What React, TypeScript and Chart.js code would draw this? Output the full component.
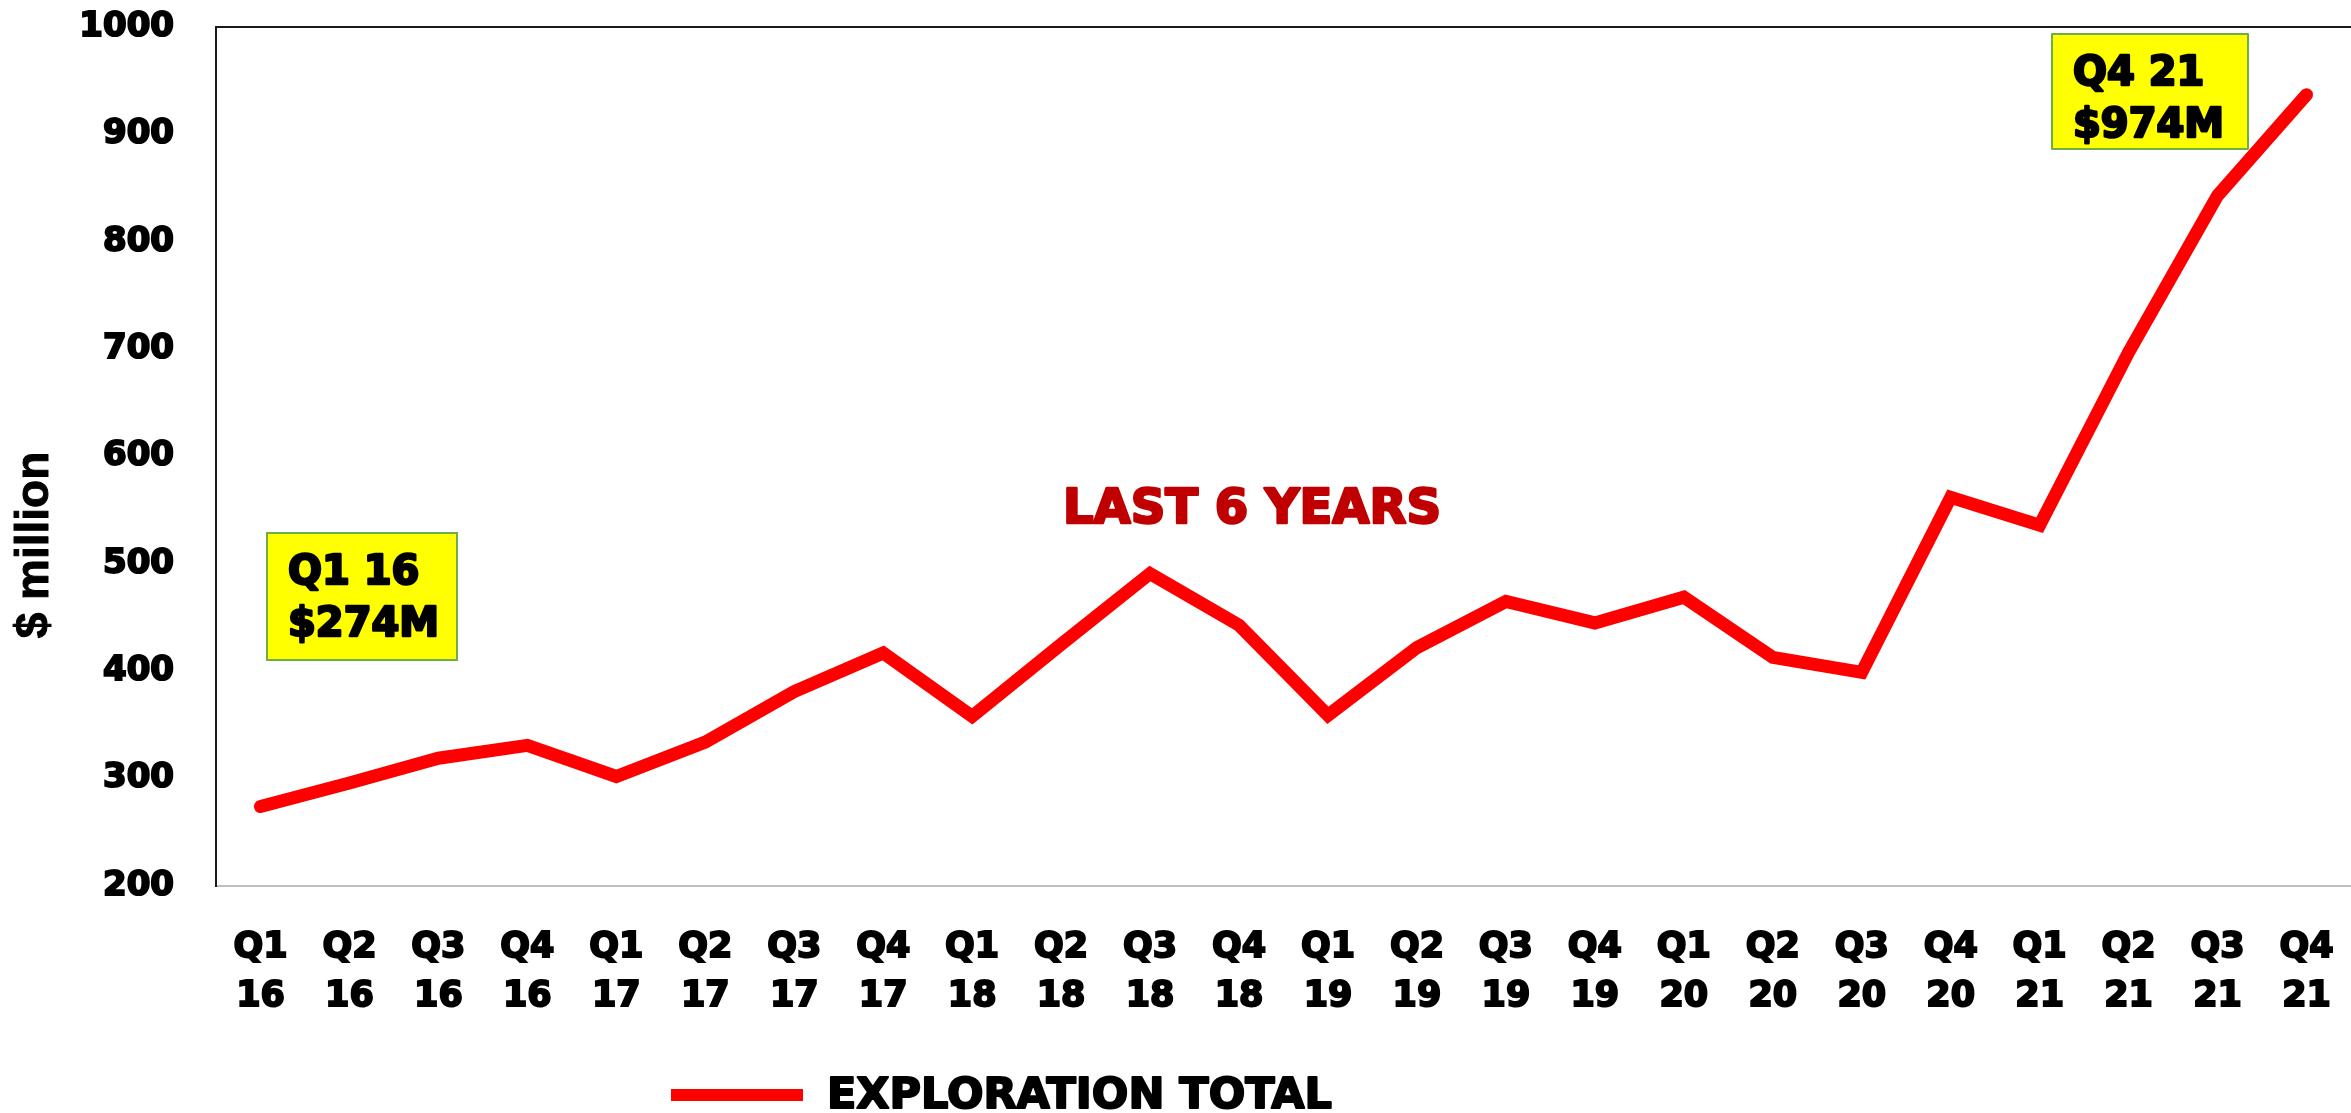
import React, { useEffect, useRef } from "react";
import { Chart, registerables } from "chart.js";

Chart.register(...registerables);

const quarters = ["Q1","Q2","Q3","Q4","Q1","Q2","Q3","Q4","Q1","Q2","Q3","Q4","Q1","Q2","Q3","Q4","Q1","Q2","Q3","Q4","Q1","Q2","Q3","Q4"];
const years = ["16","16","16","16","17","17","17","17","18","18","18","18","19","19","19","19","20","20","20","20","21","21","21","21"];
const explorationTotal = [274, 296, 319, 331, 302, 334, 381, 417, 358, 425, 491, 443, 359, 422, 465, 445, 469, 413, 399, 562, 536, 697, 843, 937];
const yTicks = [200, 300, 400, 500, 600, 700, 800, 900, 1000];
const seriesName = "EXPLORATION TOTAL";
const axisTitle = "$ million";
const centerNote = "LAST 6 YEARS";
const startNote = ["Q1 16", "$274M"];
const endNote = ["Q4 21", "$974M"];

const TICK_FONT = "'DejaVu Sans', 'Liberation Sans', sans-serif";

function heavyText(ctx: CanvasRenderingContext2D, text: string, x: number, y: number, color: string, stroke: number) {
  ctx.fillStyle = color;
  ctx.strokeStyle = color;
  ctx.lineWidth = stroke;
  ctx.lineJoin = "round";
  ctx.strokeText(text, x, y);
  ctx.fillText(text, x, y);
}

function drawBox(ctx: CanvasRenderingContext2D, lines: string[], x: number, y: number, w: number, h: number) {
  ctx.fillStyle = "#FFFF00";
  ctx.fillRect(x, y, w, h);
  ctx.strokeStyle = "#70AD47";
  ctx.lineWidth = 2;
  ctx.strokeRect(x, y, w, h);
  ctx.font = `bold 40px ${TICK_FONT}`;
  ctx.textAlign = "left";
  ctx.textBaseline = "alphabetic";
  heavyText(ctx, lines[0], x + 21, y + 51, "#000000", 2.5);
  heavyText(ctx, lines[1], x + 21, y + 103, "#000000", 2.5);
}

const decorations = {
  id: "decorations",
  afterDraw(chart: any) {
    const { ctx, chartArea: a } = chart;
    ctx.save();
    // top frame line
    ctx.strokeStyle = "#1a1a1a";
    ctx.lineWidth = 2;
    ctx.beginPath();
    ctx.moveTo(a.left, a.top);
    ctx.lineTo(a.right, a.top);
    ctx.stroke();

    // y-axis title
    ctx.save();
    ctx.translate(35, 545);
    ctx.rotate(-Math.PI / 2);
    ctx.font = "bold 46px 'Liberation Sans', Arial, sans-serif";
    ctx.textAlign = "center";
    ctx.textBaseline = "middle";
    heavyText(ctx, axisTitle, 0, 0, "#000000", 1);
    ctx.restore();

    // annotation boxes
    drawBox(ctx, startNote, 267, 533, 190, 127);
    drawBox(ctx, endNote, 2052, 34, 196, 115);

    // center note
    ctx.font = `bold 48px ${TICK_FONT}`;
    ctx.textAlign = "center";
    ctx.textBaseline = "alphabetic";
    heavyText(ctx, centerNote, 1252, 523, "#C00000", 2.5);

    // legend
    const ds = chart.data.datasets[0];
    ctx.fillStyle = ds.borderColor;
    ctx.fillRect(671, 1089, 132, 12);
    ctx.font = `bold 43px ${TICK_FONT}`;
    ctx.textAlign = "left";
    heavyText(ctx, ds.label, 827, 1108, "#000000", 2);
    ctx.restore();
  },
};

export default function App() {
  const ref = useRef<HTMLCanvasElement | null>(null);
  useEffect(() => {
    document.body.style.margin = "0";
    document.body.style.overflow = "hidden";
    const canvas = ref.current!;
    const chart = new Chart(canvas, {
      type: "line",
      data: {
        labels: quarters.map((q, i) => [q, years[i]]),
        datasets: [
          {
            label: seriesName,
            data: explorationTotal,
            borderColor: "#FF0000",
            backgroundColor: "#FF0000",
            borderWidth: 13,
            pointRadius: 0,
            pointHoverRadius: 0,
            tension: 0,
            borderCapStyle: "round",
            borderJoinStyle: "miter",
            fill: false,
          },
        ],
      },
      options: {
        responsive: false,
        animation: false,
        layout: { padding: { top: 27, right: -5, left: 0, bottom: 0 } },
        plugins: {
          legend: { display: false },
          tooltip: { enabled: false },
          title: { display: false },
        },
        scales: {
          x: {
            offset: true,
            grid: { display: false, drawTicks: false, tickLength: 0 },
            border: { display: true, color: "#BFBFBF", width: 2 },
            ticks: {
              color: "#000000",
              font: { family: TICK_FONT, size: 35, weight: "bold", lineHeight: 1.4 },
              textStrokeColor: "#000000",
              textStrokeWidth: 2,
              padding: 37,
              maxRotation: 0,
              autoSkip: false,
            },
            afterFit(scale: any) {
              scale.height = 227;
              scale.paddingLeft = 0;
              scale.paddingRight = 0;
            },
          },
          y: {
            min: 200,
            max: 1000,
            afterBuildTicks(scale: any) {
              scale.ticks = yTicks.map((v) => ({ value: v }));
            },
            grid: { display: false, drawTicks: false, tickLength: 0 },
            border: { display: true, color: "#1a1a1a", width: 2 },
            ticks: {
              color: "#000000",
              font: { family: TICK_FONT, size: 34, weight: "bold" },
              textStrokeColor: "#000000",
              textStrokeWidth: 2,
              padding: 42,
              callback: (v: any) => String(v),
            },
            afterFit(scale: any) {
              scale.width = 216;
              scale.paddingTop = 0;
              scale.paddingBottom = 0;
            },
          },
        },
      },
      plugins: [decorations],
    });
    return () => chart.destroy();
  }, []);
  return (
    <div style={{ width: 2351, height: 1113 }}>
      <canvas ref={ref} width={2351} height={1113} style={{ display: "block" }} />
    </div>
  );
}
